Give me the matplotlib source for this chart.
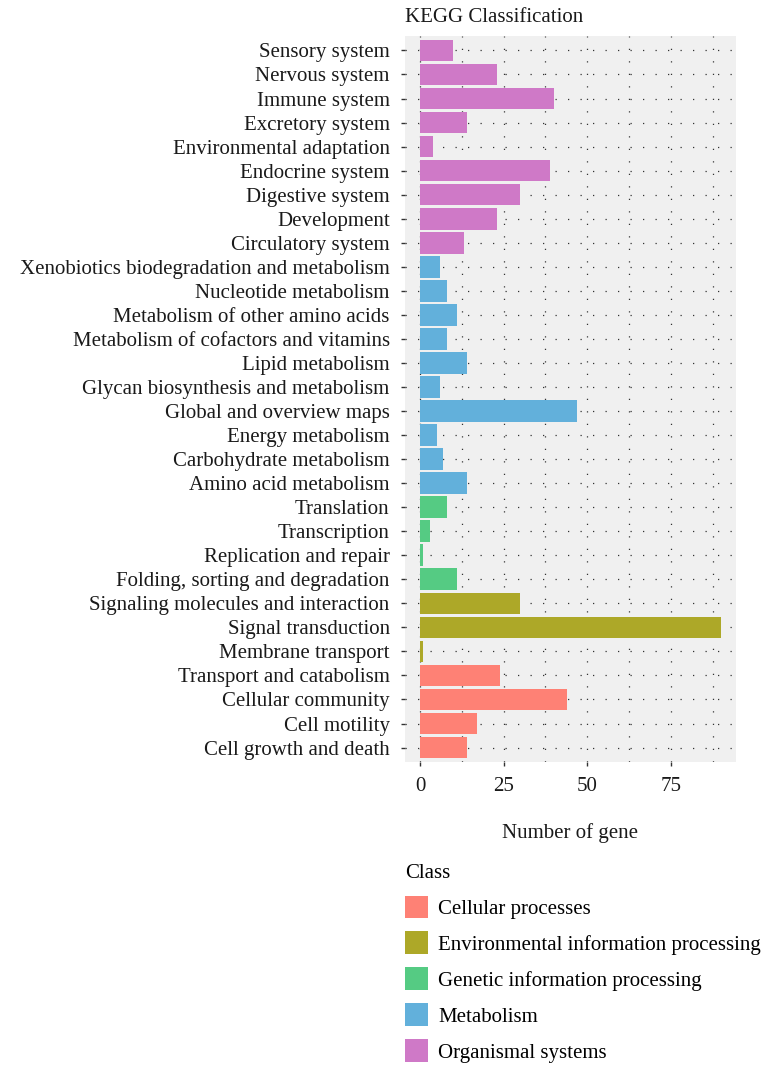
import matplotlib
matplotlib.use("Agg")
import matplotlib.pyplot as plt
from matplotlib.patches import Patch

# Data (top to bottom as displayed)
categories = [
    "Sensory system", "Nervous system", "Immune system", "Excretory system",
    "Environmental adaptation", "Endocrine system", "Digestive system",
    "Development", "Circulatory system",
    "Xenobiotics biodegradation and metabolism", "Nucleotide metabolism",
    "Metabolism of other amino acids", "Metabolism of cofactors and vitamins",
    "Lipid metabolism", "Glycan biosynthesis and metabolism",
    "Global and overview maps", "Energy metabolism", "Carbohydrate metabolism",
    "Amino acid metabolism",
    "Translation", "Transcription", "Replication and repair",
    "Folding, sorting and degradation",
    "Signaling molecules and interaction", "Signal transduction",
    "Membrane transport",
    "Transport and catabolism", "Cellular community", "Cell motility",
    "Cell growth and death",
]
counts = [10, 23, 40, 14, 4, 39, 30, 23, 13,
          6, 8, 11, 8, 14, 6, 47, 5, 7, 14,
          8, 3, 1, 11,
          30, 90, 1,
          24, 44, 17, 14]
classes = (["Organismal systems"] * 9 + ["Metabolism"] * 10 +
           ["Genetic information processing"] * 4 +
           ["Environmental information processing"] * 3 +
           ["Cellular processes"] * 4)
class_names = ["Cellular processes", "Environmental information processing",
               "Genetic information processing", "Metabolism", "Organismal systems"]
class_colors = ["#FE8175", "#ADA828", "#55CB83", "#62B0DB", "#CF79C7"]
xticks = [0, 25, 50, 75]

FONT = "Liberation Serif"
plt.rcParams['font.family'] = [FONT, 'DejaVu Serif']
FS = 15
TXT = "#1a1a1a"

W, H = 773, 1066
fig = plt.figure(figsize=(W / 100, H / 100), dpi=100)
ax = fig.add_axes([405 / W, 1 - 762 / H, (736 - 405) / W, (762 - 36) / H])
ax.set_facecolor("#F0F0F0")
for s in ax.spines.values():
    s.set_visible(False)

n = len(categories)
ypos = [n - 1 - i for i in range(n)]
cmap = dict(zip(class_names, class_colors))
ax.barh(ypos, counts, height=0.9, color=[cmap[c] for c in classes], zorder=3)

ax.set_xlim(-4.5, 94.5)
ax.set_ylim(-0.6, n - 1 + 0.6)
ax.set_yticks(ypos)
ax.set_yticklabels(categories, fontsize=FS, color=TXT)
ax.set_xticks(xticks)
ax.set_xticklabels([str(v) for v in xticks], fontsize=FS, color=TXT)
ax.set_xticks([12.5, 37.5, 62.5, 87.5], minor=True)
ax.tick_params(axis='both', which='major', length=3, width=1, color="#333333", pad=8)
ax.tick_params(axis='x', which='minor', length=0)

grid_kw = dict(color="#333333", linewidth=0.9, linestyle=(0, (1, 9)), zorder=1)
ax.grid(True, which='major', axis='both', **grid_kw)
ax.grid(True, which='minor', axis='x', **grid_kw)
ax.set_axisbelow(True)

ax.set_xlabel("Number of gene", fontsize=FS, color=TXT, labelpad=19)
fig.text(405 / W, 1 - 17 / H, "KEGG Classification", fontsize=FS,
         ha="left", va="center", color=TXT)

handles = [Patch(facecolor=c, edgecolor='none', label=l)
           for l, c in zip(class_names, class_colors)]
leg = fig.legend(handles=handles, title="Class", loc="upper left",
                 bbox_to_anchor=(405 / W, 1 - 864 / H), frameon=False,
                 fontsize=FS, title_fontsize=FS, handlelength=1.1,
                 handleheight=1.32, handletextpad=0.48, labelspacing=0.6,
                 borderaxespad=0, borderpad=0)
leg._legend_box.align = "left"

fig.savefig("out.png", dpi=100)
